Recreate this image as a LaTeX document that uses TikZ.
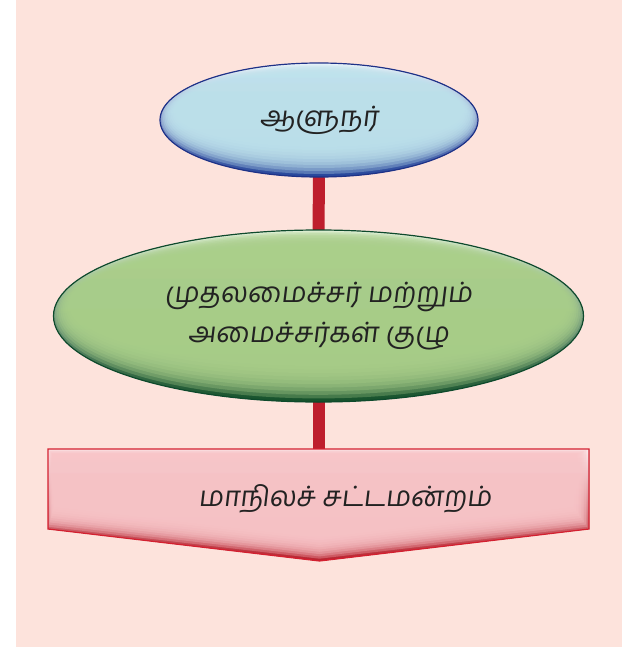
\documentclass[tikz,border=0pt]{standalone}
\usepackage{fontspec}
\newfontfamily\tamil[Script=Tamil,FakeSlant=0.12]{Hind Madurai}
\usetikzlibrary{shapes.geometric,backgrounds,calc}
\definecolor{bgpink}{HTML}{FDE3DC}
\definecolor{barred}{HTML}{BE1E2D}
\definecolor{bluemain}{HTML}{BEE2EC}
\definecolor{bluelite}{HTML}{EEF7FB}
\definecolor{bluedark}{HTML}{24449A}
\definecolor{blueline}{HTML}{1E3288}
\definecolor{greenmain}{HTML}{AACF8A}
\definecolor{greenlite}{HTML}{E2F2D8}
\definecolor{greendark}{HTML}{14502A}
\definecolor{greenline}{HTML}{0E4A2C}
\definecolor{pinkmain}{HTML}{F8C5C8}
\definecolor{pinklite}{HTML}{FDEEF0}
\definecolor{pinkmid}{HTML}{D85A64}
\definecolor{pinkdark}{HTML}{B8222E}
\definecolor{pinkline}{HTML}{D42030}
\definecolor{txt}{HTML}{222222}
\tikzset{
  lbl/.style={font=\tamil\fontsize{28}{40}\selectfont, text=txt, align=center},
  oval/.style={ellipse, inner sep=0pt},
  bar/.style={draw=barred, line width=12pt},
}
\begin{document}
\begin{tikzpicture}[x=1pt,y=-1pt]
\useasboundingbox (0,0) rectangle (622,647);
% nodes
\node[oval, minimum width=318pt, minimum height=114pt, lbl] (gov) at (319,120) {ஆளுநர்};
\node[oval, minimum width=530pt, minimum height=172pt, lbl] (cab) at (318.5,316) {முதலமைச்சர் மற்றும்\\அமைச்சர்கள் குழு};
\node[rectangle, minimum width=541pt, minimum height=80pt, inner sep=0pt] (leg) at (318.5,489) {};
\node[lbl] (legtxt) at (345,499) {மாநிலச் சட்டமன்றம்};
\begin{scope}[on background layer]
  \fill[bgpink] (16,0) rectangle (622,647);
  \draw[bar] (gov.south) -- (cab.north);
  \draw[bar] (cab.south) -- (leg.north);
  % governor ellipse
  \fill[top color=bluelite, middle color=bluemain, bottom color=bluedark] (319,120) ellipse [x radius=159, y radius=57];
  \foreach \k in {1,...,10}
    \fill[bluemain, opacity=0.3] (319,{120-0.8*\k}) ellipse [x radius={159-1.5*\k}, y radius={57-2.2*\k}];
  \draw[blueline, line width=1.2pt] (319,120) ellipse [x radius=159, y radius=57];
  % cabinet ellipse
  \fill[top color=greenlite, middle color=greenmain, bottom color=greendark] (318.5,316) ellipse [x radius=265, y radius=86];
  \foreach \k in {1,...,10}
    \fill[greenmain, opacity=0.3] (318.5,{316-1.0*\k}) ellipse [x radius={265-1.8*\k}, y radius={86-2.6*\k}];
  \draw[greenline, line width=1.2pt] (318.5,316) ellipse [x radius=265, y radius=86];
  % legislature pentagon
  \fill[top color=pinklite, middle color=pinkmid, bottom color=pinkdark] (48,449) -- (589,449) -- (589,529) -- (319.5,561) -- (48,529) -- cycle;
  \foreach \k in {1,...,10}
    \fill[pinkmain, opacity=0.3] ({48+0.6*\k},{449+0.7*\k}) -- ({589-1.6*\k},{449+0.7*\k}) -- ({589-1.6*\k},{529-2.2*\k}) -- (319.5,{561-2.3*\k}) -- ({48+0.6*\k},{529-2.2*\k}) -- cycle;
  \draw[pinkline, line width=1.2pt] (48,449) -- (589,449) -- (589,529) -- (319.5,561) -- (48,529) -- cycle;
\end{scope}
\end{tikzpicture}
\end{document}
